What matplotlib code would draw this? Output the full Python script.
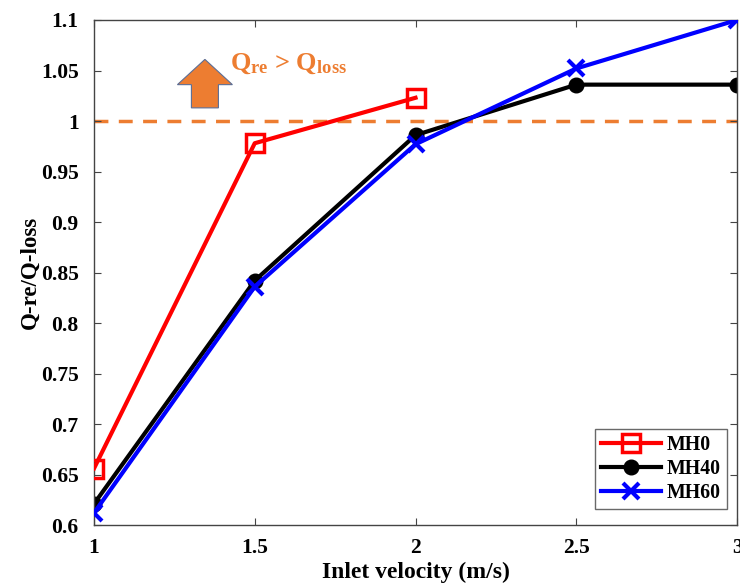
import matplotlib.pyplot as plt
from matplotlib.patches import FancyArrow

# inlet velocity (m/s) and heat ratio for each case
velocity = [1, 1.5, 2, 2.5, 3]
mh0_vel = [1, 1.5, 2]
mh0 = [0.656, 0.978, 1.023]
mh40 = [0.621, 0.842, 0.986, 1.036, 1.036]
mh60 = [0.612, 0.836, 0.977, 1.052, 1.100]

xticks = [1, 1.5, 2, 2.5, 3]
yticks = [0.6, 0.65, 0.7, 0.75, 0.8, 0.85, 0.9, 0.95, 1.0, 1.05, 1.1]
ylabels = ['0.6', '0.65', '0.7', '0.75', '0.8', '0.85', '0.9', '0.95', '1', '1.05', '1.1']

orange = '#ED7D31'

plt.rcParams['font.family'] = ['Liberation Serif', 'DejaVu Serif']
plt.rcParams['font.weight'] = 'bold'
plt.rcParams['mathtext.fontset'] = 'custom'
plt.rcParams['mathtext.rm'] = 'Liberation Serif:bold'
plt.rcParams['mathtext.it'] = 'Liberation Serif:bold'

fig = plt.figure(figsize=(7.4, 5.88), dpi=100)
ax = fig.add_axes([0.127, 0.107, 0.869, 0.859])

ax.axhline(1.0, color=orange, lw=2.5, ls=(0, (4, 3)), zorder=1)

ax.plot(mh0_vel, mh0, color='red', lw=3, marker='s', ms=12.5, mfc='none',
        mec='red', mew=2.5, label='MH0', zorder=3)
ax.plot(velocity, mh40, color='black', lw=3, marker='o', ms=10.5,
        mfc='black', mec='black', label='MH40', zorder=2)
ax.plot(velocity, mh60, color='blue', lw=3, marker='x', ms=12, mew=3,
        label='MH60', zorder=4)

# "above 1" hint: block arrow and label
arr = FancyArrow(1.345, 1.013, 0, 0.048, width=0.084,
                 head_width=0.171, head_length=0.025,
                 length_includes_head=True, facecolor=orange,
                 edgecolor='#5B6E96', lw=0.8, zorder=5, clip_on=False)
ax.add_patch(arr)
ax.text(1.423, 1.057, r'Q$_{\rm re}$ > Q$_{\rm loss}$', color=orange,
        fontsize=19, fontweight='bold', va='center', ha='left')

ax.set_xlim(1, 3)
ax.set_ylim(0.6, 1.1)
ax.set_xticks(xticks)
ax.set_xticklabels(['1', '1.5', '2', '2.5', '3'])
ax.set_yticks(yticks)
ax.set_yticklabels(ylabels)
ax.tick_params(direction='in', top=True, right=True, length=5,
               labelsize=15.5, color='#444444')
ax.tick_params(axis='y', pad=11)
ax.tick_params(axis='x', pad=9)
for s in ax.spines.values():
    s.set_color('#444444')
    s.set_linewidth(1)

ax.set_xlabel('Inlet velocity (m/s)', fontsize=17, fontweight='bold', labelpad=3)
ax.set_ylabel('Q-re/Q-loss', fontsize=16.5, fontweight='bold', labelpad=0)

leg = ax.legend(loc='lower right', fontsize=14.3, frameon=True, fancybox=False,
                edgecolor='#444444', handlelength=3.0, borderpad=0.3,
                labelspacing=0.2, handletextpad=0.3,
                bbox_to_anchor=(0.9995, 0.012))
leg.get_frame().set_linewidth(1)

fig.savefig('out.png', dpi=100)
